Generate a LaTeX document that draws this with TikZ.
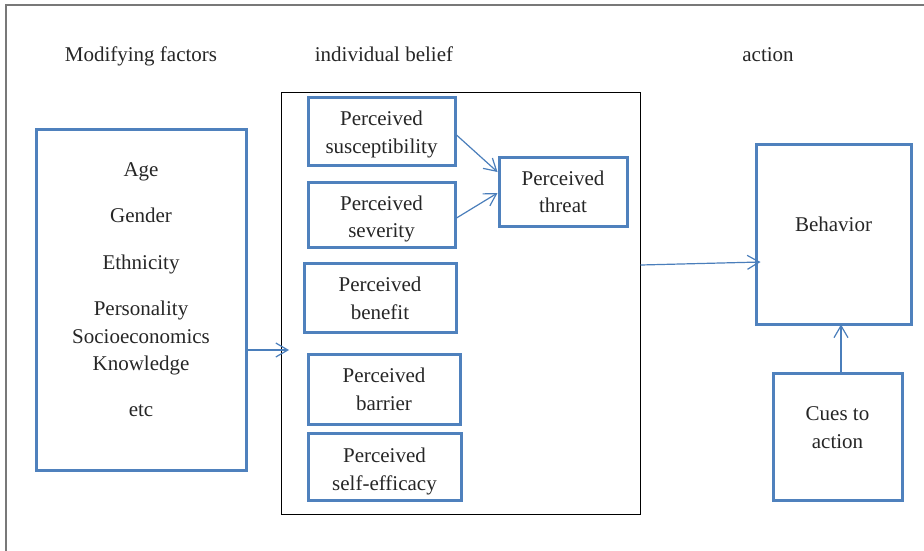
\documentclass[tikz,border=0pt]{standalone}
\usepackage{fontspec}
\setmainfont{Liberation Serif}
\usetikzlibrary{arrows.meta}
\definecolor{boxblue}{RGB}{79,129,189}
\definecolor{arrblue}{RGB}{74,126,187}
\definecolor{framegray}{RGB}{120,120,120}
\begin{document}
\begin{tikzpicture}[x=1pt,y=-1pt,
  every node/.style={font=\fontsize{21pt}{28pt}\selectfont, text=black!85},
  bbox/.style={draw=boxblue, line width=3pt, inner sep=0pt},
  txt/.style={inner sep=0pt, anchor=base},
  conn/.style={draw=arrblue, line width=1.2pt, -{Straight Barb[length=12pt,width=14pt]}}]
\useasboundingbox (0,0) rectangle (924,550);
% outer frame
\draw[framegray, line width=1.5pt] (6,552) -- (6,5) -- (926,5);
% titles
\node[txt] (t1) at (141,61) {Modifying factors};
\node[txt] (t2) at (384,61) {individual belief};
\node[txt] (t3) at (768,61) {action};
% big black box
\node[draw=black, line width=1pt, minimum width=359pt, minimum height=422pt, inner sep=0pt] (big) at (460.5,303) {};
% modifying factors box
\node[bbox, minimum width=210pt, minimum height=341pt] (mod) at (141,299.5) {};
\node[txt] (m1) at (141,176.7) {Age};
\node[txt] (m2) at (141,222.7) {Gender};
\node[txt] (m3) at (141,269.3) {Ethnicity};
\node[txt] (m4) at (141,315) {Personality};
\node[txt] (m5) at (141,343.3) {Socioeconomics};
\node[txt] (m6) at (141,370.7) {Knowledge};
\node[txt] (m7) at (141,416) {etc};
% perceived boxes
\node[bbox, minimum width=147pt, minimum height=68pt] (sus) at (381.5,131) {};
\node[txt] (sus1) at (381.5,125) {Perceived};
\node[txt] (sus2) at (381.5,153.3) {susceptibility};
\node[bbox, minimum width=147pt, minimum height=65pt] (sev) at (381.5,214.5) {};
\node[txt] (sev1) at (381.5,210) {Perceived};
\node[txt] (sev2) at (381.5,237.3) {severity};
\node[bbox, minimum width=152pt, minimum height=69pt] (ben) at (380,297.5) {};
\node[txt] (ben1) at (380,291) {Perceived};
\node[txt] (ben2) at (380,319) {benefit};
\node[bbox, minimum width=152pt, minimum height=70pt] (bar) at (384,389) {};
\node[txt] (bar1) at (384,382) {Perceived};
\node[txt] (bar2) at (384,410) {barrier};
\node[bbox, minimum width=153pt, minimum height=67pt] (eff) at (384.5,466.5) {};
\node[txt] (eff1) at (384.5,462) {Perceived};
\node[txt] (eff2) at (384.5,490.5) {self-efficacy};
\node[bbox, minimum width=128pt, minimum height=69pt] (thr) at (563,191.5) {};
\node[txt] (thr1) at (563,185) {Perceived};
\node[txt] (thr2) at (563,212) {threat};
% action boxes
\node[bbox, minimum width=155pt, minimum height=180pt] (beh) at (833.5,234) {};
\node[txt] (behT) at (833.5,231) {Behavior};
\node[bbox, minimum width=129pt, minimum height=127pt] (cue) at (837.5,436.5) {};
\node[txt] (cue1) at (837.5,420) {Cues to};
\node[txt] (cue2) at (837.5,448) {action};
% connectors
\coordinate (modin) at (289,350);
\draw[conn] (mod.east |- modin) -- (modin);
\draw[conn] (sus.east |- 0,135) -- (thr.west |- 0,172);
\draw[conn] (sev.east |- 0,218) -- (thr.west |- 0,193);
\draw[conn] (big.east |- 0,265) -- ([xshift=6pt]beh.west |- 0,262);
\draw[conn] (cue.north -| 841,0) -- ([yshift=1pt]beh.south -| 841,0);
\end{tikzpicture}
\end{document}
